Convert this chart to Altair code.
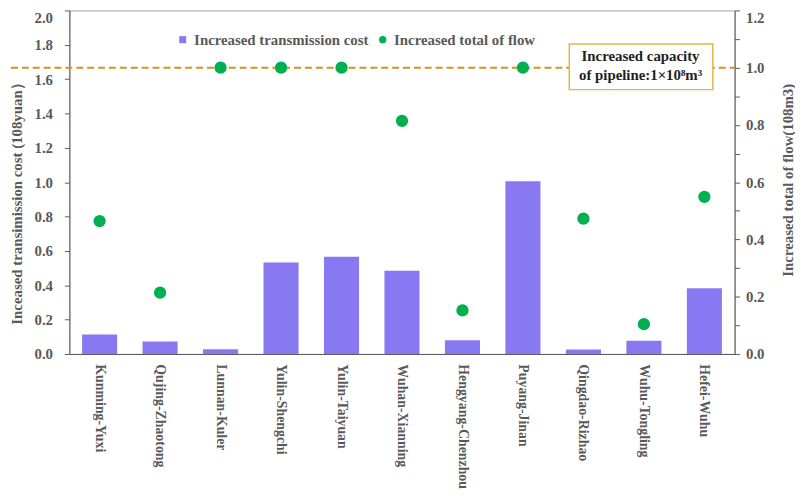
import altair as alt
import pandas as pd

categories = ["Kunming-Yuxi", "Qujing-Zhaotong", "Lunnan-Kuler", "Yulin-Shengchi",
              "Yulin-Taiyuan", "Wuhan-Xianning", "Hengyang-Chenzhou", "Puyang-Jinan",
              "Qingdao-Rizhao", "Wuhu-Tongling", "Hefei-Wuhu"]
cost = [0.113, 0.072, 0.028, 0.533, 0.566, 0.485, 0.080, 1.005, 0.026, 0.077, 0.383]
flow = [0.464, 0.214, 1.0, 1.0, 1.0, 0.814, 0.152, 1.0, 0.473, 0.104, 0.549]
capacity = [1.0]
left_ticks = [0.0, 0.2, 0.4, 0.6, 0.8, 1.0, 1.2, 1.4, 1.6, 1.8, 2.0]
right_ticks = [0.0, 0.1, 0.2, 0.3, 0.4, 0.5, 0.6, 0.7, 0.8, 0.9, 1.0, 1.1, 1.2]
box_lines = ["Increased capacity", "of pipeline:1×10⁸m³"]

df = pd.DataFrame({"route": categories, "cost": cost, "flow": flow})

FONT = "Liberation Serif"
GREY = "#595959"
W, H = 672, 347

xenc = alt.X("route:N", sort=None, title=None,
             scale=alt.Scale(paddingInner=0.42, paddingOuter=0.21),
             axis=alt.Axis(labelAngle=90, ticks=False, labelPadding=10,
                           domainColor=GREY, labelFont=FONT, labelFontSize=14,
                           labelFontWeight="bold", labelColor=GREY))

bars = alt.Chart(df).transform_calculate(s1="'Increased transmission cost'").mark_bar(
    color="#8879F2").encode(
    x=xenc,
    y=alt.Y("cost:Q", scale=alt.Scale(domain=[0, 2]),
            axis=alt.Axis(values=left_ticks, format=".1f", grid=False,
                          title="Inceased transimission cost (108yuan）",
                          tickSize=5, labelPadding=12, domainColor=GREY, tickColor=GREY,
                          labelBaseline=alt.condition("datum.value >= 1.99",
                                                      alt.value("top"), alt.value("middle")),
                          titleX=-53, titleY=191, titleAngle=270, titleBaseline="middle",
                          titleAlign="center")),
    color=alt.Color("s1:N", scale=alt.Scale(range=["#8879F2"]),
                    legend=alt.Legend(orient="none", legendX=107, legendY=22, title=None,
                                      symbolType="square", symbolSize=50, padding=0,
                                      labelLimit=0,
                                      labelFont=FONT, labelFontSize=15,
                                      labelFontWeight="bold", labelColor=GREY)),
)

right_axis = alt.Axis(values=right_ticks, grid=False, orient="right",
                      labelExpr="round(datum.value*10) % 2 == 0 ? format(datum.value, '.1f') : ''",
                      title="Increased total of flow(108m3)",
                      tickSize=5, labelPadding=6, domainColor=GREY, tickColor=GREY,
                      labelBaseline=alt.condition("datum.value >= 1.19",
                                                  alt.value("top"), alt.value("middle")),
                      titleX=53, titleY=171, titleAngle=270, titleBaseline="middle",
                      titleAlign="center")
yscale = alt.Scale(domain=[0, 1.2])

rule = alt.Chart(pd.DataFrame({"flow": capacity})).mark_rule(
    color="#D4951A", strokeDash=[7, 4], strokeWidth=2).encode(
    x=alt.value(-70), x2=alt.value(W),
    y=alt.Y("flow:Q", scale=yscale, axis=right_axis),
)

points = alt.Chart(df).transform_calculate(s2="'Increased total of flow'").mark_circle(
    size=154, opacity=1).encode(
    x=xenc,
    y=alt.Y("flow:Q", scale=yscale, axis=right_axis),
    color=alt.Color("s2:N", scale=alt.Scale(range=["#00B050"]),
                    legend=alt.Legend(orient="none", legendX=309, legendY=22, title=None,
                                      symbolType="circle", symbolSize=55, padding=0,
                                      labelLimit=0,
                                      labelFont=FONT, labelFontSize=15,
                                      labelFontWeight="bold", labelColor=GREY)),
)

one = alt.Data(values=[{"a": 1}])
box = alt.Chart(one).mark_rect(fill="white", stroke="#E3B448", strokeWidth=1.5).encode(
    x=alt.value(505), x2=alt.value(650), y=alt.value(34), y2=alt.value(80))
note = alt.Chart(one).mark_text(text=box_lines, font=FONT, fontSize=15, fontWeight="bold",
                                color="#1F1F1F", lineHeight=19, align="center",
                                baseline="middle").encode(
    x=alt.value(577), y=alt.value(46))

right_layer = alt.layer(rule, points, box, note)

chart = alt.layer(bars, right_layer).resolve_scale(
    y="independent", color="independent").resolve_legend(color="independent").properties(
    width=W, height=H,
    autosize=alt.AutoSizeParams(type="none"),
    padding={"left": 62, "top": 0, "right": 61, "bottom": 137},
).configure_view(stroke="#A6A6A6").configure_axis(
    labelFont=FONT, labelFontSize=15, labelFontWeight="bold", labelColor=GREY,
    titleFont=FONT, titleFontSize=15, titleFontWeight="bold", titleColor=GREY,
)

chart.save("out.html", embed_options={"renderer": "svg", "actions": False})
